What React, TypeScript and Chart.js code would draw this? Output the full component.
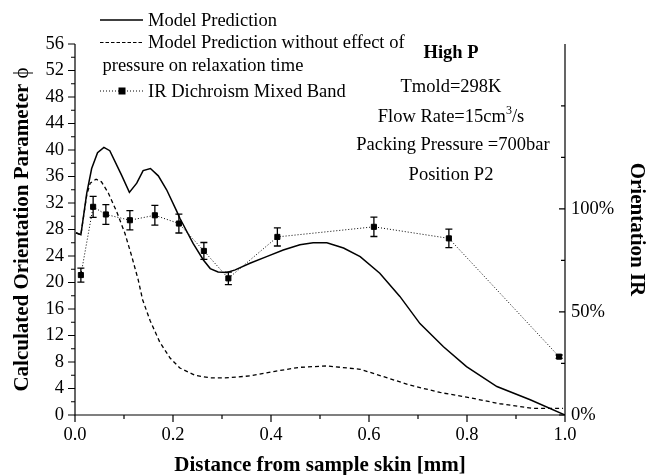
import { useEffect, useRef } from "react";
import { Chart, registerables } from "chart.js";

Chart.register(...registerables);

// Model prediction (with pressure effect on relaxation time)
const modelX = [0.002, 0.012, 0.024, 0.034, 0.046, 0.059, 0.071, 0.095, 0.111, 0.126, 0.139, 0.154, 0.17, 0.187, 0.208, 0.214, 0.241, 0.262, 0.276, 0.292, 0.31, 0.327, 0.357, 0.391, 0.425, 0.459, 0.486, 0.514, 0.548, 0.582, 0.622, 0.663, 0.704, 0.752, 0.799, 0.861, 0.929, 1.0];
const modelY = [27.5, 27.2, 33.5, 37.2, 39.6, 40.4, 39.9, 36.2, 33.6, 35.0, 36.9, 37.2, 36.1, 34.0, 30.7, 29.7, 25.9, 23.4, 22.1, 21.6, 21.5, 21.9, 22.9, 23.9, 24.9, 25.7, 26.0, 26.0, 25.2, 23.9, 21.4, 17.9, 13.8, 10.3, 7.3, 4.3, 2.3, 0.0];

// Model prediction without pressure effect on relaxation time
const noPressureX = [0.002, 0.012, 0.024, 0.031, 0.043, 0.054, 0.068, 0.085, 0.102, 0.116, 0.129, 0.138, 0.153, 0.173, 0.194, 0.214, 0.245, 0.276, 0.306, 0.357, 0.408, 0.459, 0.514, 0.582, 0.629, 0.684, 0.745, 0.799, 0.867, 0.935, 0.996];
const noPressureY = [27.5, 27.2, 33.2, 35.0, 35.6, 35.2, 33.5, 30.7, 27.4, 23.9, 20.4, 17.4, 14.3, 11.0, 8.6, 7.1, 6.0, 5.6, 5.6, 5.9, 6.6, 7.2, 7.4, 6.9, 5.8, 4.5, 3.4, 2.7, 1.7, 1.0, 1.0];

// IR dichroism, mixed band (right axis, %)
const irX = [0.012, 0.037, 0.063, 0.112, 0.163, 0.212, 0.263, 0.313, 0.413, 0.61, 0.763, 0.988];
const irPct = [67.9, 101.0, 97.3, 94.5, 96.9, 92.9, 79.6, 66.3, 86.4, 91.3, 85.7, 28.3];
const irErr = [3.4, 5.1, 4.8, 4.7, 4.8, 4.6, 4.1, 3.0, 4.4, 4.7, 4.5, 0.8];

const leftLabelStep = 4;
const rightLabels = [0, 50, 100];

const SERIF = "'Liberation Serif', 'Times New Roman', serif";

const axesPlugin = {
  id: "framedAxes",
  afterDatasetsDraw(chart: any) {
    const ctx = chart.ctx as CanvasRenderingContext2D;
    const y1 = chart.scales.y1;
    const x = chart.scales.x;
    // error bars for the IR series
    ctx.save();
    ctx.strokeStyle = "#000";
    ctx.lineWidth = 1.3;
    ctx.setLineDash([]);
    irX.forEach((xv, i) => {
      const px = x.getPixelForValue(xv);
      const top = y1.getPixelForValue(irPct[i] + irErr[i]);
      const bot = y1.getPixelForValue(irPct[i] - irErr[i]);
      ctx.beginPath();
      ctx.moveTo(px, top);
      ctx.lineTo(px, bot);
      ctx.moveTo(px - 3.5, top);
      ctx.lineTo(px + 3.5, top);
      ctx.moveTo(px - 3.5, bot);
      ctx.lineTo(px + 3.5, bot);
      ctx.stroke();
    });
    ctx.restore();
  },
  afterDraw(chart: any) {
    const ctx = chart.ctx as CanvasRenderingContext2D;
    const { left, right, top, bottom } = chart.chartArea;
    const x = chart.scales.x;
    const y = chart.scales.y;
    const y1 = chart.scales.y1;
    ctx.save();
    ctx.strokeStyle = "#000";
    ctx.fillStyle = "#000";
    ctx.lineWidth = 1.2;
    ctx.setLineDash([]);

    // axis lines
    ctx.beginPath();
    ctx.moveTo(left, top);
    ctx.lineTo(left, bottom);
    ctx.lineTo(right, bottom);
    ctx.moveTo(right, top);
    ctx.lineTo(right, bottom);
    ctx.stroke();

    // tick marks
    ctx.beginPath();
    y.ticks.forEach((t: any) => {
      const py = y.getPixelForValue(t.value);
      const len = Math.round(t.value) % leftLabelStep === 0 ? 7 : 4;
      ctx.moveTo(left - len, py);
      ctx.lineTo(left, py);
    });
    x.ticks.forEach((t: any) => {
      const px = x.getPixelForValue(t.value);
      const len = Math.round(t.value * 10) % 2 === 0 ? 7 : 4;
      ctx.moveTo(px, bottom);
      ctx.lineTo(px, bottom + len);
    });
    y1.ticks.forEach((t: any) => {
      if (Math.round(t.value) % 25 !== 0) return;
      const py = y1.getPixelForValue(t.value);
      const len = rightLabels.includes(Math.round(t.value)) ? 6 : 4;
      ctx.moveTo(right - len, py);
      ctx.lineTo(right, py);
    });
    ctx.stroke();

    // axis titles
    ctx.font = `bold 21px ${SERIF}`;
    ctx.textBaseline = "alphabetic";
    ctx.textAlign = "center";
    ctx.fillText("Distance from sample skin [mm]", (left + right) / 2, 471);

    const mainTitle = "Calculated Orientation Parameter ";
    const wMain = ctx.measureText(mainTitle).width;
    ctx.font = `21px ${SERIF}`;
    const wPhi = ctx.measureText("ϕ").width;
    ctx.save();
    ctx.translate(28, (top + bottom) / 2);
    ctx.rotate(-Math.PI / 2);
    ctx.textAlign = "left";
    const start = -(wMain + wPhi) / 2;
    ctx.font = `bold 21px ${SERIF}`;
    ctx.fillText(mainTitle, start, 0);
    ctx.font = `21px ${SERIF}`;
    ctx.fillText("ϕ", start + wMain, 0);
    ctx.restore();

    ctx.save();
    ctx.translate(631, (top + bottom) / 2);
    ctx.rotate(Math.PI / 2);
    ctx.textAlign = "center";
    ctx.font = `bold 21px ${SERIF}`;
    ctx.fillText("Orientation IR", 0, 0);
    ctx.restore();

    // legend
    ctx.lineWidth = 1.4;
    ctx.beginPath();
    ctx.moveTo(100, 20);
    ctx.lineTo(143, 20);
    ctx.stroke();
    ctx.setLineDash([3.5, 2]);
    ctx.lineWidth = 1.2;
    ctx.beginPath();
    ctx.moveTo(100, 42.5);
    ctx.lineTo(143, 42.5);
    ctx.stroke();
    ctx.setLineDash([1, 2]);
    ctx.lineWidth = 1;
    ctx.beginPath();
    ctx.moveTo(100, 91);
    ctx.lineTo(143, 91);
    ctx.stroke();
    ctx.setLineDash([]);
    ctx.fillRect(118.5, 87.5, 7, 7);

    ctx.font = `18.5px ${SERIF}`;
    ctx.textAlign = "left";
    ctx.fillText("Model Prediction", 148, 26);
    ctx.fillText("Model Prediction without effect of", 148, 48);
    ctx.fillText("pressure on relaxation time", 102.5, 71);
    ctx.fillText("IR Dichroism Mixed Band", 148, 97);

    // conditions block
    const cx = 451;
    ctx.textAlign = "center";
    ctx.font = `bold 18.5px ${SERIF}`;
    ctx.fillText("High P", cx, 58);
    ctx.font = `18.5px ${SERIF}`;
    ctx.fillText("Tmold=298K", cx, 92);
    // Flow rate line with superscript
    const partA = "Flow Rate=15cm";
    const partB = "3";
    const partC = "/s";
    const wA = ctx.measureText(partA).width;
    const wC = ctx.measureText(partC).width;
    ctx.font = `12px ${SERIF}`;
    const wB = ctx.measureText(partB).width;
    const sx = cx - (wA + wB + wC) / 2;
    ctx.textAlign = "left";
    ctx.font = `18.5px ${SERIF}`;
    ctx.fillText(partA, sx, 122);
    ctx.font = `12px ${SERIF}`;
    ctx.fillText(partB, sx + wA, 114);
    ctx.font = `18.5px ${SERIF}`;
    ctx.fillText(partC, sx + wA + wB, 122);
    ctx.textAlign = "center";
    ctx.fillText("Packing Pressure =700bar", cx + 2, 150);
    ctx.fillText("Position P2", cx, 180);

    ctx.restore();
  },
};

export default function App() {
  const canvasRef = useRef<HTMLCanvasElement | null>(null);

  useEffect(() => {
    document.body.style.margin = "0";
    const canvas = canvasRef.current;
    if (!canvas) return;
    const chart = new Chart(canvas, {
      type: "line",
      data: {
        datasets: [
          {
            label: "Model Prediction",
            data: modelX.map((v, i) => ({ x: v, y: modelY[i] })),
            borderColor: "#000",
            borderWidth: 1.5,
            pointRadius: 0,
            tension: 0,
            yAxisID: "y",
          },
          {
            label: "Model Prediction without effect of pressure on relaxation time",
            data: noPressureX.map((v, i) => ({ x: v, y: noPressureY[i] })),
            borderColor: "#000",
            borderWidth: 1.3,
            borderDash: [4, 3],
            pointRadius: 0,
            tension: 0,
            yAxisID: "y",
          },
          {
            label: "IR Dichroism Mixed Band",
            data: irX.map((v, i) => ({ x: v, y: irPct[i] })),
            borderColor: "#000",
            borderWidth: 1,
            borderDash: [1, 2],
            pointStyle: "rect",
            pointRadius: 3.6,
            pointBackgroundColor: "#000",
            pointBorderColor: "#000",
            tension: 0,
            yAxisID: "y1",
          },
        ],
      },
      options: {
        animation: false,
        responsive: false,
        devicePixelRatio: 1,
        layout: { padding: { top: 44, left: 0, right: 0, bottom: 0 } },
        plugins: {
          legend: { display: false },
          title: { display: false },
          tooltip: { enabled: false },
        },
        scales: {
          x: {
            type: "linear",
            min: 0,
            max: 1,
            grid: { display: false, drawTicks: false },
            border: { display: false },
            ticks: {
              stepSize: 0.1,
              autoSkip: false,
              maxRotation: 0,
              padding: 9,
              color: "#000",
              font: { family: SERIF, size: 18.5 },
              callback: (v: any) =>
                Math.round(Number(v) * 10) % 2 === 0 ? Number(v).toFixed(1) : "",
            },
            afterFit: (s: any) => {
              s.height = 60;
            },
          },
          y: {
            type: "linear",
            position: "left",
            min: 0,
            max: 56,
            grid: { display: false, drawTicks: false },
            border: { display: false },
            ticks: {
              stepSize: 2,
              autoSkip: false,
              padding: 11,
              color: "#000",
              font: { family: SERIF, size: 18.5 },
              callback: (v: any) =>
                Math.round(Number(v)) % leftLabelStep === 0 ? String(v) : "",
            },
            afterFit: (s: any) => {
              s.width = 75;
            },
          },
          y1: {
            type: "linear",
            position: "right",
            min: 0,
            max: 180,
            grid: { display: false, drawTicks: false },
            border: { display: false },
            ticks: {
              stepSize: 25,
              autoSkip: false,
              padding: 6,
              color: "#000",
              font: { family: SERIF, size: 18.5 },
              callback: (v: any) =>
                rightLabels.includes(Math.round(Number(v))) ? `${v}%` : "",
            },
            afterFit: (s: any) => {
              s.width = 82;
            },
          },
        },
      },
      plugins: [axesPlugin],
    });
    return () => chart.destroy();
  }, []);

  return (
    <div style={{ position: "absolute", left: 0, top: 0, width: 647, height: 475, background: "#fff" }}>
      <canvas ref={canvasRef} width={647} height={475} style={{ width: 647, height: 475, display: "block" }} />
    </div>
  );
}
